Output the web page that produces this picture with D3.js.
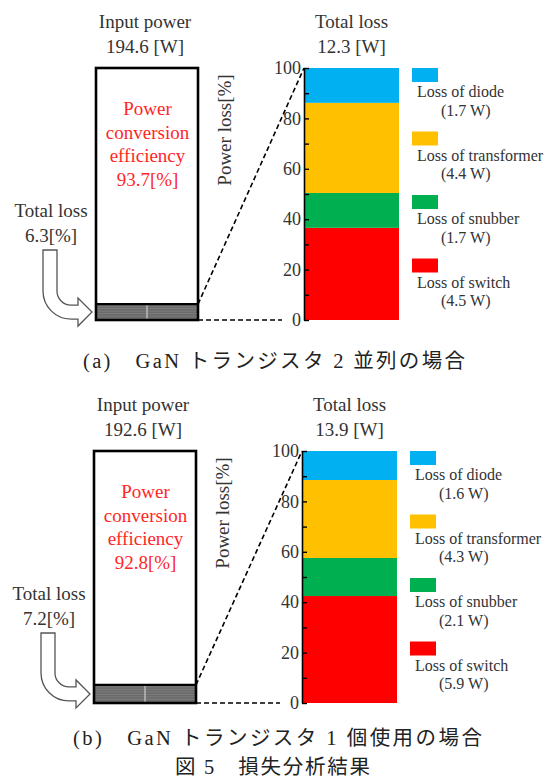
<!DOCTYPE html>
<html>
<head>
<meta charset="utf-8">
<script src="https://cdn.jsdelivr.net/npm/d3@7"></script>
<style>
  body { margin: 0; background: #fff; }
  text { font-family: "Liberation Serif", "Times New Roman", serif; fill: #333; }
  .cjk { font-family: "Liberation Serif", "Noto Sans CJK JP", serif; fill: #222; }
</style>
</head>
<body>
<div id="chart"></div>
<script>
// data
const lossNames = ["Loss of diode", "Loss of transformer", "Loss of snubber", "Loss of switch"];
const lossColors = ["#00b0f0", "#ffc000", "#00b050", "#ff0000"];
const lossA = [1.7, 4.4, 1.7, 4.5];   // W, GaN x2 parallel
const lossB = [1.6, 4.3, 2.1, 5.9];   // W, GaN x1
const inputPower = [194.6, 192.6];
const totalLossW = [12.3, 13.9];
const efficiency = [93.7, 92.8];
const totalLossPct = [6.3, 7.2];
const yTicks = [0, 10, 20, 30, 40, 50, 60, 70, 80, 90, 100];
const subCaptions = ["(a)\u3000GaN トランジスタ 2 並列の場合", "(b)\u3000GaN トランジスタ 1 個使用の場合"];
const figCaption = "図 5\u3000損失分析結果";

const W = 545, H = 781;

const svg = d3.select("#chart")
  .append("svg")
    .attr("width", W)
    .attr("height", H);

svg.append("rect").attr("width", W).attr("height", H).attr("fill", "#fff");

function drawPanel(i, losses, dx, dy) {
  const g = svg.append("g").attr("transform", `translate(${dx},${dy})`);

  const y = d3.scaleLinear().domain([0, 100]).range([320, 68]);
  const boxX = 96, boxW = 102;
  const barX = 304, barW = 95;

  // stacked percentage of each loss
  const total = d3.sum(losses);
  const row = {};
  lossNames.forEach((n, j) => row[n] = losses[j] / total * 100);
  const series = d3.stack().keys(lossNames.slice().reverse())([row]);
  const color = d3.scaleOrdinal().domain(lossNames).range(lossColors);

  g.selectAll("rect.seg")
    .data(series)
    .join("rect")
      .attr("class", "seg")
      .attr("x", barX)
      .attr("width", barW)
      .attr("y", d => y(d[0][1]))
      .attr("height", d => y(d[0][0]) - y(d[0][1]))
      .attr("fill", d => color(d.key));

  // axis with inward ticks
  const axis = g.append("g")
    .attr("transform", `translate(${barX},0)`)
    .call(d3.axisLeft(y)
      .tickValues(yTicks)
      .tickSize(-5)
      .tickSizeOuter(0)
      .tickPadding(3)
      .tickFormat(d => d % 20 === 0 ? d : ""));
  axis.select(".domain").attr("stroke", "#000").attr("stroke-width", 1.6);
  axis.selectAll(".tick line").attr("stroke", "#000").attr("stroke-width", 1.4);
  axis.selectAll(".tick text")
    .attr("font-size", 18)
    .style("font-family", "'Liberation Serif', serif")
    .attr("fill", "#333");

  // y label
  g.append("text")
    .attr("transform", "translate(231,130) rotate(-90)")
    .attr("text-anchor", "middle")
    .attr("font-size", 19)
    .text("Power loss[%]");

  // titles
  g.append("text").attr("x", 145).attr("y", 28).attr("text-anchor", "middle")
    .attr("font-size", 19).text("Input power");
  g.append("text").attr("x", 145).attr("y", 53).attr("text-anchor", "middle")
    .attr("font-size", 19).text(`${inputPower[i]} [W]`);
  g.append("text").attr("x", 351.5).attr("y", 28).attr("text-anchor", "middle")
    .attr("font-size", 19).text("Total loss");
  g.append("text").attr("x", 351.5).attr("y", 53).attr("text-anchor", "middle")
    .attr("font-size", 19).text(`${totalLossW[i]} [W]`);

  // efficiency text in red
  const red = ["Power", "conversion", "efficiency", `${efficiency[i]}[%]`];
  g.selectAll("text.eff")
    .data(red)
    .join("text")
      .attr("class", "eff")
      .attr("x", 147.5)
      .attr("y", (d, k) => 115 + k * 23.5)
      .attr("text-anchor", "middle")
      .attr("font-size", 19)
      .style("fill", "#ff2626")
      .text(d => d);

  // total loss label
  g.append("text").attr("x", 51).attr("y", 217).attr("text-anchor", "middle")
    .attr("font-size", 19).text("Total loss");
  g.append("text").attr("x", 51).attr("y", 242).attr("text-anchor", "middle")
    .attr("font-size", 19).text(`${totalLossPct[i]}[%]`);

  // loss band at bottom of the input box
  const bandTop = y(totalLossPct[i]);
  g.append("rect")
    .attr("x", boxX).attr("y", bandTop)
    .attr("width", boxW).attr("height", y(0) - bandTop)
    .attr("fill", "#6a6a6a");
  g.selectAll("line.hatch")
    .data(d3.range(bandTop + 2, y(0), 2.5))
    .join("line")
      .attr("class", "hatch")
      .attr("x1", boxX).attr("x2", boxX + boxW)
      .attr("y1", d => d).attr("y2", d => d)
      .attr("stroke", "#8a8a8a").attr("stroke-width", 0.6);
  g.append("line")
    .attr("x1", boxX + boxW / 2).attr("x2", boxX + boxW / 2)
    .attr("y1", bandTop).attr("y2", y(0))
    .attr("stroke", "#ddd").attr("stroke-width", 1);

  // box outline
  g.append("rect")
    .attr("x", boxX).attr("y", y(100))
    .attr("width", boxW).attr("height", y(0) - y(100))
    .attr("fill", "none").attr("stroke", "#000").attr("stroke-width", 2.6);
  g.append("line")
    .attr("x1", boxX).attr("x2", boxX + boxW)
    .attr("y1", bandTop).attr("y2", bandTop)
    .attr("stroke", "#000").attr("stroke-width", 2.4);

  // dashed zoom lines
  g.append("line")
    .attr("x1", boxX + boxW).attr("y1", bandTop)
    .attr("x2", barX).attr("y2", y(100))
    .attr("stroke", "#000").attr("stroke-width", 1.6).attr("stroke-dasharray", "5,3");
  g.append("line")
    .attr("x1", boxX + boxW).attr("y1", y(0))
    .attr("x2", 282).attr("y2", y(0))
    .attr("stroke", "#000").attr("stroke-width", 1.6).attr("stroke-dasharray", "5,3");

  // curved block arrow
  const cy = (bandTop + y(0)) / 2;
  const tip = boxX - 4;
  const arrow = `M57,250 L57,${cy - 21} A14,14 0 0 0 71,${cy - 7} L78,${cy - 7} L78,${cy - 14}
    L${tip},${cy} L78,${cy + 14} L78,${cy + 7} L71,${cy + 7} A28,28 0 0 1 43,${cy - 21} L43,250 Z`;
  g.append("path")
    .attr("d", arrow)
    .attr("fill", "#fff").attr("stroke", "#555").attr("stroke-width", 1.3);

  // legend
  const ly = d3.scaleBand().domain(lossNames).range([68, 322]);
  const leg = g.selectAll("g.leg")
    .data(lossNames)
    .join("g")
      .attr("class", "leg")
      .attr("transform", d => `translate(0,${ly(d)})`);
  leg.append("rect")
    .attr("x", 412).attr("width", 26).attr("height", 14)
    .attr("fill", d => color(d));
  leg.append("text")
    .attr("x", 417).attr("y", 29)
    .attr("font-size", 16)
    .text(d => d);
  leg.append("text")
    .attr("x", 441).attr("y", 47.5)
    .attr("font-size", 16)
    .text((d, j) => `(${losses[j]} W)`);
}

drawPanel(0, lossA, 0, 0);
drawPanel(1, lossB, -2, 383);

// captions
svg.append("text").attr("class", "cjk")
  .attr("x", 274).attr("y", 368).attr("text-anchor", "middle")
  .attr("font-size", 20.5).attr("textLength", 382).attr("lengthAdjust", "spacing")
  .text(subCaptions[0]);
svg.append("text").attr("class", "cjk")
  .attr("x", 277.5).attr("y", 745).attr("text-anchor", "middle")
  .attr("font-size", 20.5).attr("textLength", 409).attr("lengthAdjust", "spacing")
  .text(subCaptions[1]);
svg.append("text").attr("class", "cjk")
  .attr("x", 272.5).attr("y", 774).attr("text-anchor", "middle")
  .attr("font-size", 20.5).attr("textLength", 195).attr("lengthAdjust", "spacing")
  .text(figCaption);
</script>
</body>
</html>
